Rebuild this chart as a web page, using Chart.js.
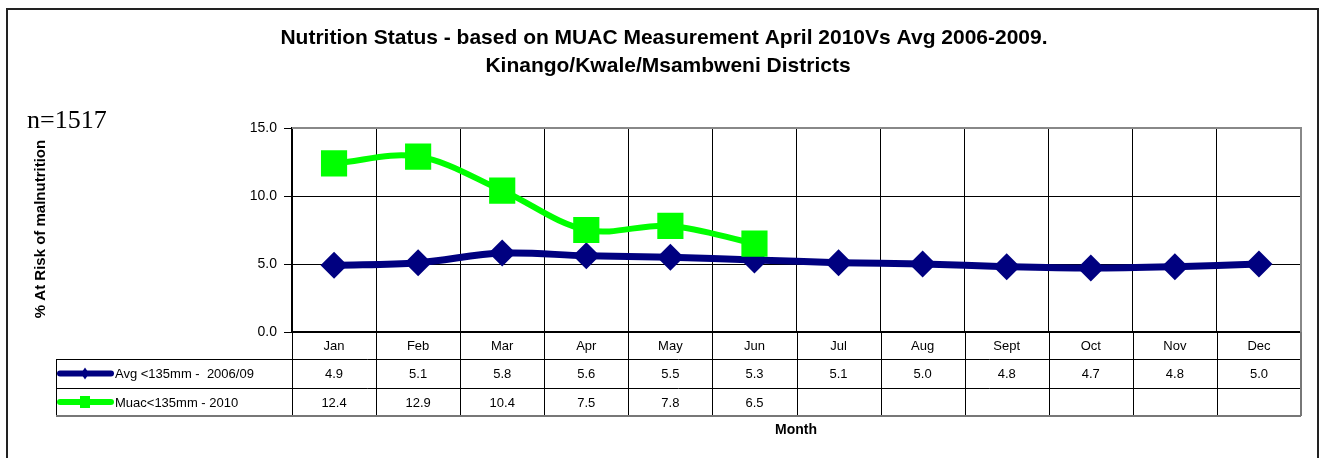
<!DOCTYPE html>
<html>
<head>
<meta charset="utf-8">
<script src="https://cdn.jsdelivr.net/npm/chart.js@4/dist/chart.umd.min.js"></script>
<style>
  body { margin: 0; background: #fff; }
  #wrap { width: 1325px; height: 458px; }
</style>
</head>
<body>
<div id="wrap"><canvas id="nutritionChart" width="1325" height="458"></canvas></div>
<script>
const months = ['Jan', 'Feb', 'Mar', 'Apr', 'May', 'Jun', 'Jul', 'Aug', 'Sept', 'Oct', 'Nov', 'Dec'];
const avgValues = [4.9, 5.1, 5.8, 5.6, 5.5, 5.3, 5.1, 5.0, 4.8, 4.7, 4.8, 5.0];
const muacValues = [12.4, 12.9, 10.4, 7.5, 7.8, 6.5, null, null, null, null, null, null];
const yTicks = [0, 5, 10, 15];
const avgLabel = 'Avg <135mm -  2006/09';
const muacLabel = 'Muac<135mm - 2010';

const titleLines = [
    'Nutrition Status - based on MUAC Measurement April 2010Vs Avg 2006-2009.',
    'Kinango/Kwale/Msambweni Districts'
];

const SANS = '"Liberation Sans", Arial, sans-serif';
const NAVY = '#000080';
const GREEN = '#00ff00';

// table rows below the plot area
const rowMonthBottom = 359;
const rowAvgBottom = 388;
const rowMuacBottom = 416;
const legendLeft = 56;

const frameAndTable = {
    id: 'frameAndTable',
    afterDraw(chart) {
        const ctx = chart.ctx;
        const area = chart.chartArea;
        const x = chart.scales.x;
        const step = (area.right - area.left) / months.length;
        ctx.save();

        // outer frame
        ctx.strokeStyle = '#222';
        ctx.lineWidth = 2;
        ctx.strokeRect(7, 9, 1311, 470);

        // plot border top / right in grey
        ctx.strokeStyle = '#888';
        ctx.lineWidth = 2;
        ctx.beginPath();
        ctx.moveTo(area.left, area.top);
        ctx.lineTo(area.right, area.top);
        ctx.lineTo(area.right, area.bottom);
        ctx.stroke();

        // titles
        ctx.fillStyle = '#000';
        ctx.textAlign = 'center';
        ctx.textBaseline = 'middle';
        ctx.font = 'bold 21px ' + SANS;
        ctx.fillText(titleLines[0], 664, 38);
        ctx.fillText(titleLines[1], 668, 66);

        ctx.textAlign = 'left';
        ctx.textBaseline = 'alphabetic';
        ctx.font = '26px "Liberation Serif", "Times New Roman", serif';
        ctx.fillText('n=1517', 27, 128);

        // y axis title
        ctx.save();
        ctx.translate(41, 229);
        ctx.rotate(-Math.PI / 2);
        ctx.textAlign = 'center';
        ctx.textBaseline = 'middle';
        ctx.font = 'bold 15px ' + SANS;
        ctx.fillText('% At Risk of malnutrition', 0, 0);
        ctx.restore();

        // data table lines
        ctx.strokeStyle = '#000';
        ctx.lineWidth = 1;
        ctx.beginPath();
        for (let i = 0; i <= months.length; i++) {
            const bx = Math.round(x.getPixelForValue(i) - step / 2) + 0.5;
            ctx.moveTo(bx, area.bottom);
            ctx.lineTo(bx, rowMuacBottom);
        }
        [rowMonthBottom, rowAvgBottom].forEach(yy => {
            ctx.moveTo(legendLeft, yy + 0.5);
            ctx.lineTo(area.right, yy + 0.5);
        });
        ctx.moveTo(legendLeft + 0.5, rowMonthBottom);
        ctx.lineTo(legendLeft + 0.5, rowMuacBottom);
        ctx.stroke();

        ctx.strokeStyle = '#777';
        ctx.lineWidth = 2;
        ctx.beginPath();
        ctx.moveTo(legendLeft, rowMuacBottom);
        ctx.lineTo(area.right, rowMuacBottom);
        ctx.moveTo(area.right, area.bottom);
        ctx.lineTo(area.right, rowMuacBottom);
        ctx.stroke();

        // table text
        ctx.fillStyle = '#000';
        ctx.font = '13px ' + SANS;
        ctx.textAlign = 'center';
        ctx.textBaseline = 'middle';
        months.forEach((m, i) => {
            const cx = x.getPixelForValue(i);
            ctx.fillText(m, cx, (area.bottom + rowMonthBottom) / 2 + 1);
            if (avgValues[i] != null) ctx.fillText(avgValues[i].toFixed(1), cx, (rowMonthBottom + rowAvgBottom) / 2 + 1);
            if (muacValues[i] != null) ctx.fillText(muacValues[i].toFixed(1), cx, (rowAvgBottom + rowMuacBottom) / 2 + 1);
        });

        // legend keys
        const yAvg = (rowMonthBottom + rowAvgBottom) / 2;
        const yMuac = (rowAvgBottom + rowMuacBottom) / 2;
        ctx.lineCap = 'round';
        ctx.lineWidth = 6;
        ctx.strokeStyle = NAVY;
        ctx.beginPath();
        ctx.moveTo(60, yAvg);
        ctx.lineTo(111, yAvg);
        ctx.stroke();
        ctx.fillStyle = NAVY;
        ctx.beginPath();
        ctx.moveTo(85, yAvg - 6);
        ctx.lineTo(89, yAvg);
        ctx.lineTo(85, yAvg + 6);
        ctx.lineTo(81, yAvg);
        ctx.closePath();
        ctx.fill();

        ctx.strokeStyle = GREEN;
        ctx.beginPath();
        ctx.moveTo(60, yMuac);
        ctx.lineTo(111, yMuac);
        ctx.stroke();
        ctx.fillStyle = GREEN;
        ctx.fillRect(80, yMuac - 6, 10, 12);

        ctx.fillStyle = '#000';
        ctx.textAlign = 'left';
        ctx.font = '13px ' + SANS;
        ctx.fillText(avgLabel, 115, yAvg + 1);
        ctx.fillText(muacLabel, 115, yMuac + 1);

        // x axis title
        ctx.textAlign = 'center';
        ctx.font = 'bold 14px ' + SANS;
        ctx.fillText('Month', 796, 430);

        ctx.restore();
    }
};

const ctx = document.getElementById('nutritionChart').getContext('2d');
new Chart(ctx, {
    type: 'line',
    data: {
        labels: months,
        datasets: [{
            label: muacLabel,
            data: muacValues,
            borderColor: GREEN,
            backgroundColor: GREEN,
            borderWidth: 6,
            tension: 0.35,
            pointStyle: 'rect',
            pointRadius: 18.5,
            pointHoverRadius: 18.5,
            pointBorderWidth: 0,
            spanGaps: false,
            order: 0
        }, {
            label: avgLabel,
            data: avgValues,
            borderColor: NAVY,
            backgroundColor: NAVY,
            borderWidth: 7,
            tension: 0.35,
            pointStyle: 'rectRot',
            pointRadius: 13.5,
            pointHoverRadius: 13.5,
            pointBorderWidth: 0,
            order: 1
        }]
    },
    options: {
        responsive: false,
        animation: false,
        layout: { padding: { left: 0, right: 24, top: 128, bottom: 0 } },
        scales: {
            x: {
                offset: true,
                afterFit: scale => { scale.height = 126; },
                grid: { offset: true, color: '#000', lineWidth: 1, drawTicks: false },
                border: { color: '#000', width: 2 },
                ticks: { display: false }
            },
            y: {
                min: 0,
                max: 15,
                afterFit: scale => { scale.width = 292; },
                afterBuildTicks: scale => { scale.ticks = yTicks.map(v => ({ value: v })); },
                grid: { color: '#000', lineWidth: 1, tickLength: 8 },
                border: { color: '#000', width: 2 },
                ticks: {
                    color: '#000',
                    padding: 7,
                    font: { family: SANS, size: 14 },
                    callback: v => v.toFixed(1)
                }
            }
        },
        plugins: {
            legend: { display: false },
            tooltip: { enabled: false }
        }
    },
    plugins: [frameAndTable]
});
</script>
</body>
</html>
